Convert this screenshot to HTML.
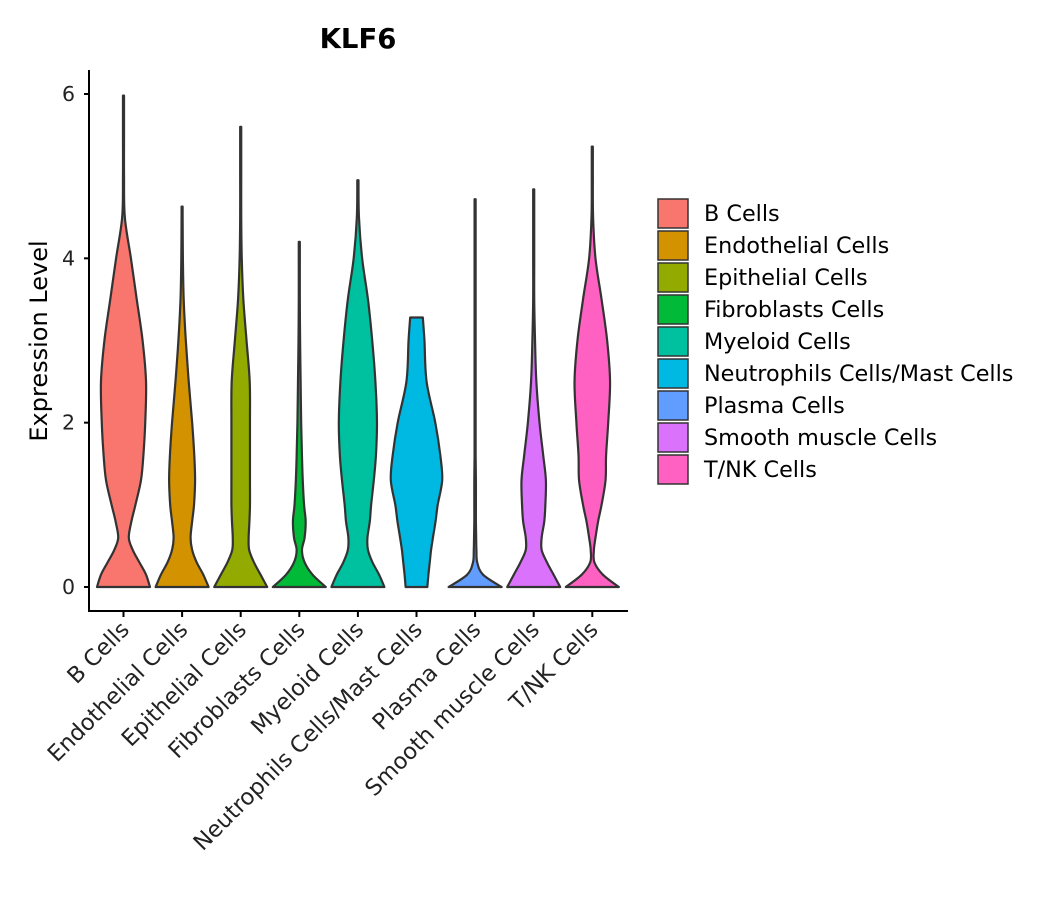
<!DOCTYPE html>
<html><head><meta charset="utf-8">
<style>
html,body{margin:0;padding:0;background:#fff;}
svg{display:block;font-family:"DejaVu Sans","Liberation Sans",sans-serif;}
</style></head>
<body>
<svg id="chart" width="1057" height="900" viewBox="0 0 1057 900" xmlns="http://www.w3.org/2000/svg">
<text x="358" y="48" font-size="27.5" font-weight="bold" text-anchor="middle" fill="#000">KLF6</text>
<text transform="translate(47,341) rotate(-90)" font-size="24" text-anchor="middle" fill="#000">Expression Level</text>
<g id="plot"></g>
<g id="legend"></g>
</svg>
<script>
const categories = ["B Cells","Endothelial Cells","Epithelial Cells","Fibroblasts Cells","Myeloid Cells","Neutrophils Cells/Mast Cells","Plasma Cells","Smooth muscle Cells","T/NK Cells"];
const colors = ["#F8766D","#D39200","#93AA00","#00BA38","#00C19F","#00B9E3","#619CFF","#DB72FB","#FF61C3"];
const levels = [0,0.15,0.3,0.45,0.6,0.8,1,1.3,1.6,2,2.5,3,3.5,4,4.5,5,5.5,6];
const maxValues = [5.98,4.63,5.6,4.2,4.95,3.28,4.72,4.84,5.36];
const densB = [1,.85,.6,.35,.2,.3,.45,.66,.75,.82,.85,.72,.5,.28,.05,.02,.02,.02];
const densEndo = [1,.8,.55,.38,.32,.38,.45,.49,.46,.38,.25,.14,.06,.03,.02,.02,.02,.02];
const densEpi = [1,.75,.5,.32,.3,.33,.35,.35,.35,.35,.34,.22,.1,.04,.02,.02,.02,.02];
const densFib = [1,.5,.2,.1,.2,.24,.18,.13,.1,.07,.05,.03,.02,.02,.02,.02,.02,.02];
const densMye = [1,.8,.55,.38,.36,.45,.5,.6,.68,.72,.66,.54,.38,.16,.04,.02,.02,.02];
const densNeu = [.41,.45,.5,.55,.62,.72,.8,.97,.9,.71,.38,.3,.19,.19,.19,.19,.19,.19];
const densPla = [1,.3,.08,.05,.04,.03,.03,.03,.02,.02,.02,.02,.02,.02,.02,.02,.02,.02];
const densSM = [1,.75,.5,.3,.3,.4,.44,.46,.36,.22,.1,.05,.02,.02,.02,.02,.02,.02];
const densTNK = [1,.4,.08,.06,.12,.22,.35,.5,.52,.6,.67,.56,.35,.12,.03,.02,.02,.02];
const densities = [densB,densEndo,densEpi,densFib,densMye,densNeu,densPla,densSM,densTNK];
const yTicks = [0,2,4,6];

const NS="http://www.w3.org/2000/svg";
const plot=document.getElementById('plot');
const legend=document.getElementById('legend');
const axL=89, axB=611, y0px=587, pxPerUnit=(587-94)/6;
const xStart=123.5, xStep=58.6, halfW=26.5;
function yS(v){return y0px - v*pxPerUnit;}
function xS(i){return xStart + i*xStep;}
function mk(t,a){const e=document.createElementNS(NS,t);for(const k in a)e.setAttribute(k,a[k]);return e;}

const yAxis=mk('line',{x1:axL,y1:70,x2:axL,y2:axB+0.5,stroke:'#000','stroke-width':2});


plot.appendChild(yAxis);
const xAxis=mk('line',{x1:axL-1,y1:axB,x2:628,y2:axB,stroke:'#000','stroke-width':2});


plot.appendChild(xAxis);

yTicks.forEach(t=>{
  const y=yS(t);
  const tk=mk('line',{x1:axL-5,y1:y,x2:axL,y2:y,stroke:'#000','stroke-width':2});
  
  
  plot.appendChild(tk);
  const lb=mk('text',{x:axL-14,y:y+7,'font-size':20.5,'text-anchor':'end',fill:'#222'});
  lb.textContent=t;
  
  
  plot.appendChild(lb);
});

function smoothPath(pts){
  let d='';
  for(let i=0;i<pts.length-1;i++){
    const p0=pts[Math.max(0,i-1)],p1=pts[i],p2=pts[i+1],p3=pts[Math.min(pts.length-1,i+2)];
    const c1=[p1[0]+(p2[0]-p0[0])/6,p1[1]+(p2[1]-p0[1])/6];
    const c2=[p2[0]-(p3[0]-p1[0])/6,p2[1]-(p3[1]-p1[1])/6];
    d+=` C${c1[0].toFixed(2)},${c1[1].toFixed(2)} ${c2[0].toFixed(2)},${c2[1].toFixed(2)} ${p2[0].toFixed(2)},${p2[1].toFixed(2)}`;
  }
  return d;
}

categories.forEach((c,i)=>{
  const cx=xS(i), dens=densities[i], mx=maxValues[i];
  const prof=[];
  for(let k=0;k<levels.length;k++){
    if(levels[k]<mx) prof.push([levels[k],dens[k]]);
    else {
      const a=levels[k-1],b=levels[k],t=(mx-a)/(b-a);
      prof.push([mx,dens[k-1]+(dens[k]-dens[k-1])*t]);
      break;
    }
  }
  if(prof[prof.length-1][0]<mx) prof.push([mx,dens[dens.length-1]]);
  const tipMin=0.012;
  const left=prof.map(p=>[cx-Math.max(p[1],tipMin)*halfW,yS(p[0])]);
  const right=prof.map(p=>[cx+Math.max(p[1],tipMin)*halfW,yS(p[0])]).reverse();
  let d=`M${left[0][0]},${left[0][1]}`+smoothPath(left);
  d+=` L${right[0][0]},${right[0][1]}`+smoothPath(right)+' Z';
  const v=mk('path',{d:d,fill:colors[i],stroke:'#333','stroke-width':2.2,'stroke-linejoin':'round'});
  
  
  plot.appendChild(v);

  const tk=mk('line',{x1:cx,y1:axB,x2:cx,y2:axB+6,stroke:'#000','stroke-width':2});
  
  
  plot.appendChild(tk);
  const lb=mk('text',{transform:`translate(${cx+7},${axB+20}) rotate(-45)`,'font-size':22.5,'text-anchor':'end',fill:'#222'});
  lb.textContent=c;
  
  
  plot.appendChild(lb);

  const ly=199+i*32;
  const box=mk('rect',{x:658,y:ly,width:30,height:29,fill:colors[i],stroke:'#333','stroke-width':1.5});
  
  
  legend.appendChild(box);
  const lt=mk('text',{x:704,y:ly+22,'font-size':22.3,fill:'#000'});
  lt.textContent=c;
  
  
  legend.appendChild(lt);
});
</script>
</body></html>
